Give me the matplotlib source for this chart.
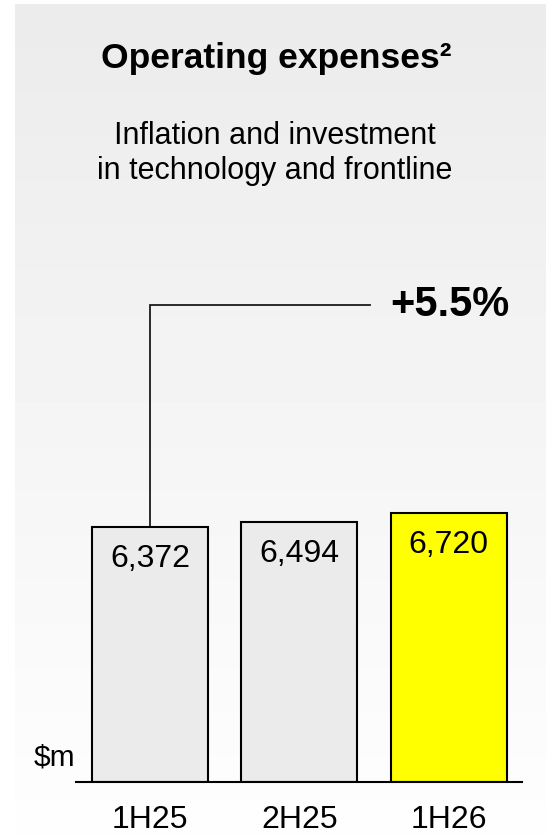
import numpy as np
import matplotlib
matplotlib.use("Agg")
import matplotlib.pyplot as plt

plt.rcParams["font.family"] = ["Liberation Sans", "DejaVu Sans"]

periods = ["1H25", "2H25", "1H26"]
values = [6372, 6494, 6720]
colors = ["#ebebeb", "#ebebeb", "#ffff00"]
growth_label = "+5.5%"
title = "Operating expenses\u00b2"
subtitle = ["Inflation and investment", "in technology and frontline"]

W, H = 546, 834
fig = plt.figure(figsize=(W / 100, H / 100), dpi=100)

# --- grey-to-white gradient panel behind everything ---
bg = fig.add_axes([0, 0, 1, 1], zorder=0)
bg.set_xlim(0, W); bg.set_ylim(H, 0); bg.axis("off")
grad = np.linspace(0.922, 0.995, 256).reshape(-1, 1)
bg.imshow(grad, cmap="gray", vmin=0, vmax=1, aspect="auto",
          extent=[15, W, H, 4], interpolation="bilinear")
bg.set_xlim(0, W); bg.set_ylim(H, 0)

# --- bar axes (pixel-matched: baseline 782 px, x 76..522 px) ---
scale = 24.95           # $m per pixel
top_px = 200
ax = fig.add_axes([76 / W, (H - 782) / H, 446 / W, (782 - top_px) / H], zorder=1)
ax.patch.set_alpha(0)
ax.set_xlim(-0.496, 2.49)
ax.set_ylim(0, (782 - top_px) * scale)

x = np.arange(len(values))
ax.bar(x, values, width=0.777, color=colors, edgecolor="black", linewidth=1.5, zorder=2)
for xi, v in zip(x, values):
    ax.text(xi, v - 32 * scale, f"{v:,}", ha="center", va="center", fontsize=23, zorder=3)

for s in ["top", "right", "left"]:
    ax.spines[s].set_visible(False)
ax.spines["bottom"].set_linewidth(1.5)
ax.set_xticks([]); ax.set_yticks([])
for xi, p in zip(x, periods):
    ax.text(xi, -38 * scale, p, ha="center", va="center", fontsize=23, clip_on=False)
ax.text(-0.50, 25 * scale, "$m", ha="right", va="center", fontsize=21.5, clip_on=False)

# growth bracket from first bar
y_br = (782 - 305) * scale
ax.plot([0, 0, 1.474], [values[0], y_br, y_br], color="#1a1a1a", lw=1.3, zorder=1,
        solid_joinstyle="miter")
ax.text(2.01, y_br, growth_label, ha="center", va="center", fontsize=30,
        fontweight="bold", clip_on=False)

# titles
fig.text(276 / W, 1 - 68 / H, title, ha="center", va="baseline",
         fontsize=25.5, fontweight="bold")
fig.text(275 / W, 1 - 144 / H, subtitle[0], ha="center", va="baseline", fontsize=22)
fig.text(275 / W, 1 - 179 / H, subtitle[1], ha="center", va="baseline", fontsize=22)

fig.savefig("out.png", dpi=100)
